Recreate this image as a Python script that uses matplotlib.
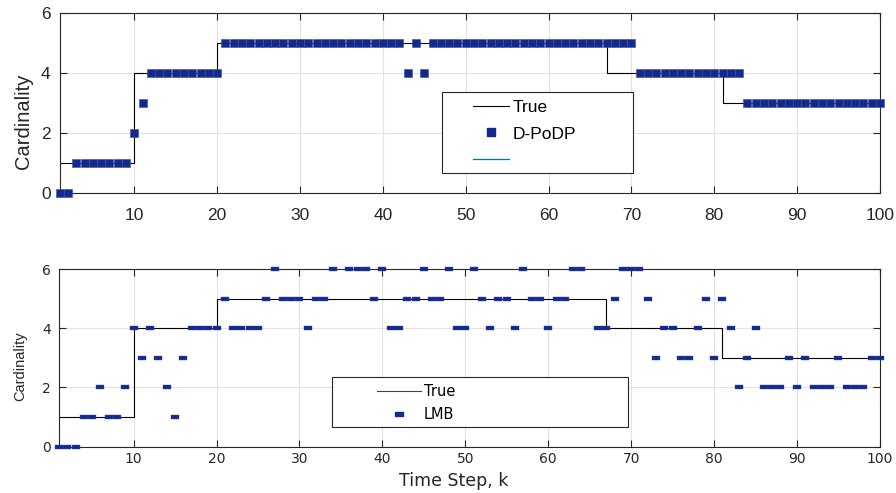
import numpy as np
import matplotlib
matplotlib.use("Agg")
import matplotlib.pyplot as plt
from matplotlib.lines import Line2D
from matplotlib.patches import Rectangle

# time steps and cardinality estimates
k = np.arange(1, 101)

true_card = [1, 1, 1, 1, 1, 1, 1, 1, 1, 4,
             4, 4, 4, 4, 4, 4, 4, 4, 4, 5,
             5, 5, 5, 5, 5, 5, 5, 5, 5, 5,
             5, 5, 5, 5, 5, 5, 5, 5, 5, 5,
             5, 5, 5, 5, 5, 5, 5, 5, 5, 5,
             5, 5, 5, 5, 5, 5, 5, 5, 5, 5,
             5, 5, 5, 5, 5, 5, 4, 4, 4, 4,
             4, 4, 4, 4, 4, 4, 4, 4, 4, 4,
             3, 3, 3, 3, 3, 3, 3, 3, 3, 3,
             3, 3, 3, 3, 3, 3, 3, 3, 3, 3]

dpodp_card = [0, 0, 1, 1, 1, 1, 1, 1, 1, 2,
              3, 4, 4, 4, 4, 4, 4, 4, 4, 4,
              5, 5, 5, 5, 5, 5, 5, 5, 5, 5,
              5, 5, 5, 5, 5, 5, 5, 5, 5, 5,
              5, 5, 4, 5, 4, 5, 5, 5, 5, 5,
              5, 5, 5, 5, 5, 5, 5, 5, 5, 5,
              5, 5, 5, 5, 5, 5, 5, 5, 5, 5,
              4, 4, 4, 4, 4, 4, 4, 4, 4, 4,
              4, 4, 4, 3, 3, 3, 3, 3, 3, 3,
              3, 3, 3, 3, 3, 3, 3, 3, 3, 3]

lmb_card = [0, 0, 0, 1, 1, 2, 1, 1, 2, 4,
            3, 4, 3, 2, 1, 3, 4, 4, 4, 4,
            5, 4, 4, 4, 4, 5, 6, 5, 5, 5,
            4, 5, 5, 6, 7, 6, 6, 6, 5, 6,
            4, 4, 5, 5, 6, 5, 5, 6, 4, 4,
            6, 5, 4, 5, 5, 4, 6, 5, 5, 4,
            5, 5, 6, 6, 7, 4, 4, 5, 6, 6,
            6, 5, 3, 4, 4, 3, 3, 4, 5, 3,
            5, 4, 2, 3, 4, 2, 2, 2, 3, 2,
            3, 2, 2, 2, 3, 2, 2, 2, 3, 3]

xticks = [10, 20, 30, 40, 50, 60, 70, 80, 90, 100]
yticks = [0, 2, 4, 6]
ymax = 6

navy = '#13298c'
dark = '#262626'

# wide horizontal box marker for the LMB panel
rect_marker = [(-1, -0.5), (1, -0.5), (1, 0.5), (-1, 0.5), (-1, -0.5)]


def style_axes(ax, family, tsize, pad_x, pad_y):
	ax.set_xlim(1, 100)
	ax.set_ylim(0, ymax)
	ax.set_xticks(xticks)
	ax.set_yticks(yticks)
	ax.grid(True, color='#e3e3e3', lw=0.8)
	ax.set_axisbelow(True)
	ax.tick_params(direction='in', length=5, width=0.8, colors=dark,
	               top=True, right=True, labelsize=tsize)
	ax.tick_params(axis='x', pad=pad_x)
	ax.tick_params(axis='y', pad=pad_y)
	for lab in ax.get_xticklabels() + ax.get_yticklabels():
		lab.set_family(family)
	for s in ax.spines.values():
		s.set_color(dark)
		s.set_linewidth(0.8)


fig = plt.figure(figsize=(8.96, 4.93), dpi=100)

# ---- D-PoDP panel
ax1 = fig.add_axes([0.0667, 0.6091, 0.9154, 0.3639])
style_axes(ax1, 'Liberation Sans', 12.5, 11, 6.5)
ax1.plot(k, true_card, color='k', lw=0.8, drawstyle='steps-post', zorder=2)
ax1.plot(k, dpodp_card, ls='none', marker='s', ms=5.6, color=navy,
         mec='#3a4ea0', mew=0.4, clip_on=False, zorder=3)
ax1.set_ylabel('Cardinality', family='Liberation Sans', fontsize=14.5, color=dark)
ax1.yaxis.set_label_coords(-0.033, 0.40)

ax1.add_patch(Rectangle((0.4656, 0.1081), 0.2336, 0.4516, transform=ax1.transAxes,
                        facecolor='white', edgecolor=dark, lw=0.8, zorder=4))
h1 = [Line2D([], [], color='k', lw=0.8),
      Line2D([], [], ls='none', marker='s', ms=5.6, color=navy),
      Line2D([], [], color='#0072bd', lw=0.9)]
leg1 = ax1.legend(h1, ['True', 'D-PoDP', ''], loc='upper left',
                  bbox_to_anchor=(0.5041, 0.52), frameon=False, borderpad=0,
                  borderaxespad=0, handlelength=2.05, handletextpad=0.2,
                  labelspacing=0.68, prop={'family': 'Liberation Sans', 'size': 12.5})
leg1.set_zorder(5)

# ---- LMB panel
ax2 = fig.add_axes([0.0658, 0.0939, 0.9163, 0.3604])
style_axes(ax2, 'DejaVu Sans', 10, 3.5, 6)
lmb_shown = np.where(np.array(lmb_card) > ymax, np.nan, lmb_card)
ax2.plot(k, true_card, color='k', lw=0.8, drawstyle='steps-post', zorder=2)
ax2.plot(k, lmb_shown, ls='none', marker=rect_marker, ms=6, color=navy,
         mec='#3a4ea0', mew=0.3, clip_on=False, zorder=3)
ax2.set_xlabel('Time Step, k', family='DejaVu Sans', fontsize=12.5, color=dark)
ax2.xaxis.set_label_coords(0.481, -0.142)
ax2.set_ylabel('Cardinality', family='Liberation Sans', fontsize=10.5, color=dark)
ax2.yaxis.set_label_coords(-0.039, 0.454)

ax2.add_patch(Rectangle((0.3322, 0.1092), 0.3612, 0.2813, transform=ax2.transAxes,
                        facecolor='white', edgecolor=dark, lw=0.8, zorder=4))
h2 = [Line2D([], [], color='#444444', lw=0.8),
      Line2D([], [], ls='none', marker=rect_marker, ms=6, color=navy)]
leg2 = ax2.legend(h2, ['True', 'LMB'], loc='upper left',
                  bbox_to_anchor=(0.3877, 0.355), frameon=False, borderpad=0,
                  borderaxespad=0, handlelength=3.0, handletextpad=0.2,
                  labelspacing=0.6, prop={'family': 'DejaVu Sans', 'size': 10.5})
leg2.set_zorder(5)

fig.savefig('out.png', dpi=100)
